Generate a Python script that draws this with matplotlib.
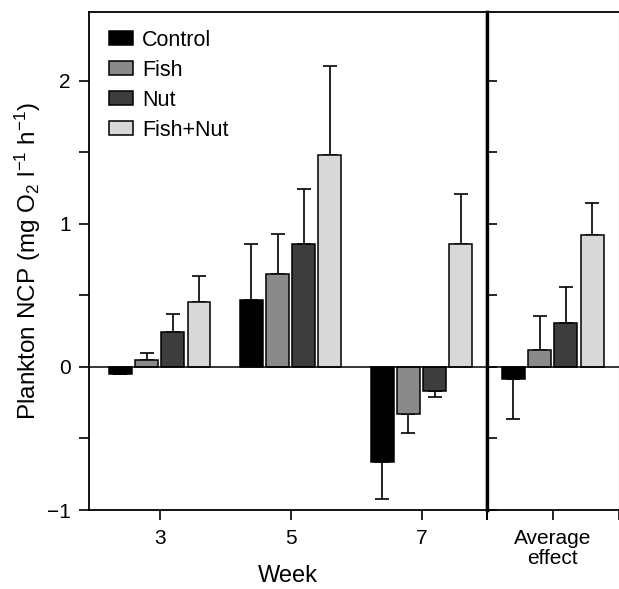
import matplotlib
matplotlib.use("Agg")
import matplotlib.pyplot as plt
import numpy as np
from matplotlib.patches import Patch

plt.rcParams['font.family'] = ['Liberation Sans', 'DejaVu Sans']
plt.rcParams['mathtext.default'] = 'regular'

weeks = [3, 5, 7]
treatments = ["Control", "Fish", "Nut", "Fish+Nut"]
colors = ["#000000", "#8a8a8a", "#3d3d3d", "#d8d8d8"]

# weekly means and (one-sided) errors, per treatment
control = [-0.05, 0.47, -0.665]
control_err = [0.0, 0.39, 0.255]
fish = [0.047, 0.647, -0.326]
fish_err = [0.053, 0.283, 0.139]
nut = [0.244, 0.86, -0.167]
nut_err = [0.126, 0.384, 0.043]
fishnut = [0.453, 1.48, 0.86]
fishnut_err = [0.184, 0.62, 0.35]

# average effect
avg = [-0.085, 0.12, 0.305, 0.925]
avg_err = [0.28, 0.235, 0.25, 0.22]

means = [control, fish, nut, fishnut]
errs = [control_err, fish_err, nut_err, fishnut_err]

W, H = 619, 589
fig = plt.figure(figsize=(W / 100, H / 100), dpi=100)
x0, x1, x2 = 89 / W, 487 / W, 618.5 / W
yb, yt = 1 - 510 / H, 1 - 12 / H
ax = fig.add_axes([x0, yb, x1 - x0, yt - yb])
ax2 = fig.add_axes([x1, yb, x2 - x1, yt - yb])

width = 0.35
offsets = [-0.6, -0.2, 0.2, 0.6]
ekw = dict(elinewidth=1.2, capthick=1.2, ecolor='black')
for i in range(4):
    xs = np.array(weeks) + offsets[i]
    m = np.array(means[i])
    e = np.array(errs[i])
    ax.bar(xs, m, width, color=colors[i], edgecolor='black', linewidth=1.1, zorder=2)
    lower = np.where(m < 0, e, 0)
    upper = np.where(m >= 0, e, 0)
    ax.errorbar(xs, m, yerr=[lower, upper], fmt='none', capsize=5.2, zorder=1, **ekw)

for i in range(4):
    xa = 1 + offsets[i]
    m = avg[i]
    e = avg_err[i]
    ax2.bar([xa], [m], width, color=colors[i], edgecolor='black', linewidth=1.1, zorder=2)
    lo = [e] if m < 0 else [0]
    up = [e] if m >= 0 else [0]
    ax2.errorbar([xa], [m], yerr=[lo, up], fmt='none', capsize=5.2, zorder=1, **ekw)

ylim = (-1, 2.48)
for a in (ax, ax2):
    a.set_ylim(*ylim)
    a.axhline(0, color='black', linewidth=1.1, zorder=3)

ax.set_xlim(1.92, 8.0)
ax.set_xticks([3, 5, 7, 8])
ax.set_xticklabels(['3', '5', '7', ''])
ax.set_yticks([-1, 0, 1, 2])
ax.set_yticks([-0.5, 0.5, 1.5], minor=True)
ax.tick_params(axis='both', which='both', direction='out', length=7, width=1.2,
               labelsize=15)
ax.tick_params(axis='x', pad=7)
ax.tick_params(axis='y', pad=6)
ax.spines['left'].set_linewidth(1.3)
ax.spines['bottom'].set_linewidth(1.3)
ax.spines['top'].set_linewidth(1.3)
ax.spines['right'].set_linewidth(2.4)
ax.set_ylabel('Plankton NCP (mg O$_2$ l$^{\u22121}$ h$^{\u22121}$)', fontsize=17.5, labelpad=3)
ax.set_xlabel('Week', fontsize=17, labelpad=12)

ax2.set_xlim(0, 2)
ax2.set_xticks([0, 1, 2])
ax2.set_xticklabels(['', 'Average\neffect', ''], linespacing=1.05)
ax2.set_yticks([-1, -0.5, 0, 0.5, 1, 1.5, 2])
ax2.set_yticklabels([])
ax2.tick_params(axis='y', which='both', direction='in', length=7, width=1.2)
ax2.tick_params(axis='x', direction='out', length=7, width=1.2, labelsize=15, pad=7)
ax2.spines['left'].set_linewidth(2.4)
ax2.spines['bottom'].set_linewidth(1.3)
ax2.spines['top'].set_linewidth(1.3)
ax2.spines['right'].set_linewidth(0.8)
ax2.spines['right'].set_color('#888888')

handles = [Patch(facecolor=c, edgecolor='black', linewidth=1.1) for c in colors]
ax.legend(handles, treatments, loc='upper left', frameon=False, fontsize=15.5,
          handlelength=1.1, handleheight=0.65, handletextpad=0.45,
          labelspacing=0.42, borderaxespad=0.3, bbox_to_anchor=(0.012, 0.995))

fig.savefig('out.png', dpi=100)
